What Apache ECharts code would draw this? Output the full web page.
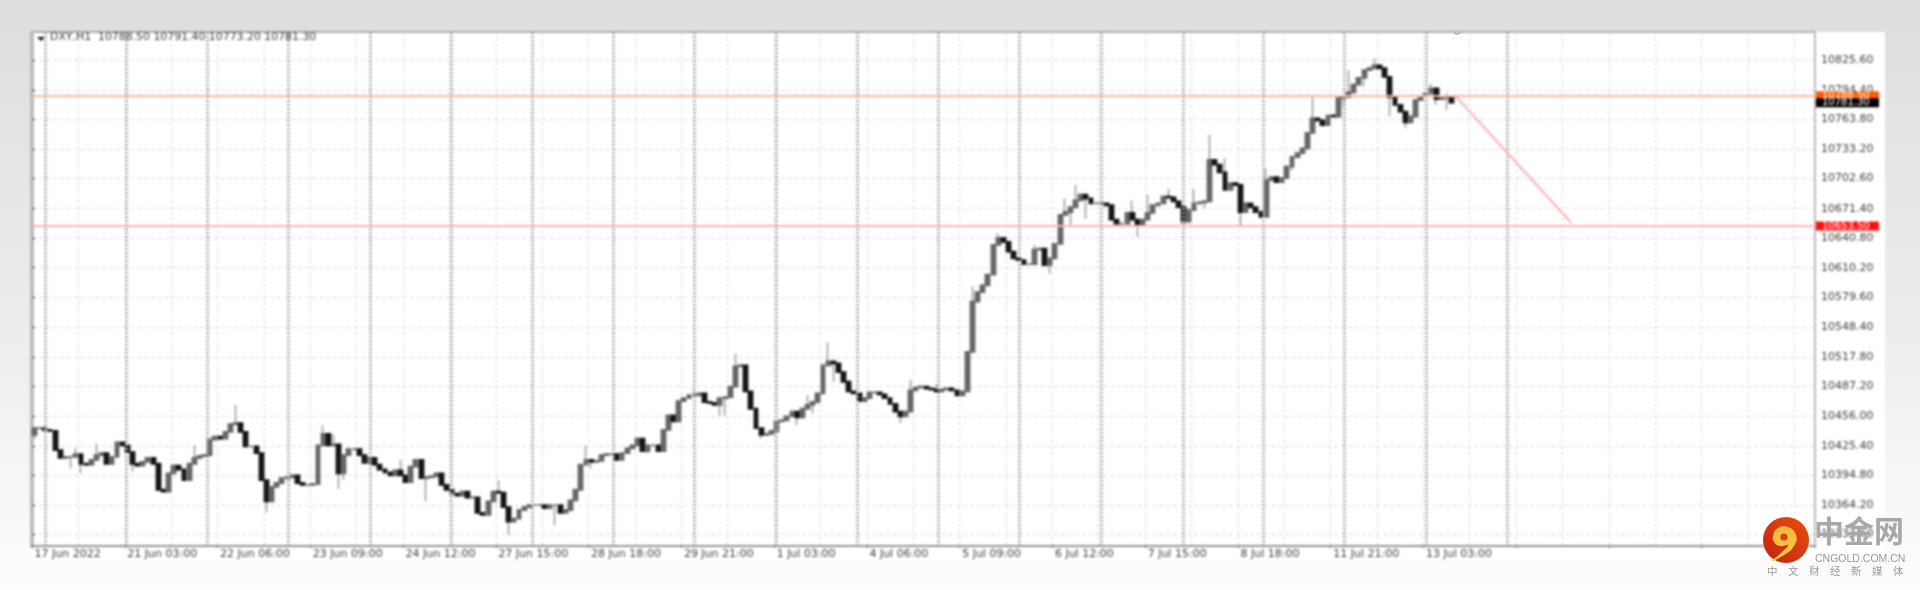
<!DOCTYPE html>
<html><head><meta charset="utf-8">
<style>
html,body{margin:0;padding:0;width:1920px;height:590px;overflow:hidden;background:linear-gradient(180deg,#dddddd 0,#e6e6e6 30%,#eeeeee 60%,#fdfdfd 100%);}
#chart{position:absolute;left:0;top:0;width:1920px;height:590px;filter:blur(1.2px);}
#mark{position:absolute;left:0;top:0;width:1920px;height:590px;filter:blur(0.35px);}
</style>
<script src="https://cdn.jsdelivr.net/npm/echarts@6/dist/echarts.min.js"></script>
</head><body><div id="chart"></div><div id="mark"></div>
<script>
const titleText = 'DXY,H1  10788.50 10791.40 10773.20 10781.30';
const xTickLabels = ['17 Jun 2022','21 Jun 03:00','22 Jun 06:00','23 Jun 09:00','24 Jun 12:00','27 Jun 15:00','28 Jun 18:00','29 Jun 21:00','1 Jul 03:00','4 Jul 06:00','5 Jul 09:00','6 Jul 12:00','7 Jul 15:00','8 Jul 18:00','11 Jul 21:00','13 Jul 03:00'];
const yTicks = [10825.6,10794.4,10763.8,10733.2,10702.6,10671.4,10640.8,10610.2,10579.6,10548.4,10517.8,10487.2,10456.0,10425.4,10394.8,10364.2,10333.6];
const closes = [10444,10444,10442,10441,10421,10413,10414,10414,10417,10407,10406,10411,10416,10418,10407,10414,10429,10426,10419,10407,10405,10409,10413,10407,10380,10378,10397,10405,10401,10390,10407,10413,10415,10416,10432,10435,10433,10440,10448,10449,10440,10425,10425,10418,10390,10368,10383,10387,10392,10393,10395,10387,10385,10385,10386,10426,10438,10426,
10427,10397,10416,10422,10422,10416,10408,10413,10406,10401,10398,10395,10400,10395,10388,10404,10411,10392,10393,10394,10397,10385,10380,10376,10374,10378,10372,10372,10356,10354,10368,10378,10377,10362,10347,10350,10359,10362,10364,10364,10364,10361,10364,10364,10356,10359,10369,10380,10406,10411,10409,10410,10416,10417,10417,10411,
10418,10423,10426,10433,10420,10426,10426,10420,10442,10457,10451,10472,10475,10478,10478,10480,10471,10470,10468,10475,10476,10487,10508,10509,10482,10464,10444,10437,10438,10441,10451,10452,10456,10461,10455,10464,10468,10471,10480,10509,10513,10511,10502,10492,10482,10480,10472,10475,10481,10481,10479,10475,10469,10461,10456,10461,10483,10486,10487,10485,10484,10482,10484,10485,10483,10478,
10482,10523,10575,10585,10592,10603,10634,10641,10637,10627,10620,10618,10614,10614,10629,10630,10613,10620,10635,10665,10668,10673,10680,10686,10682,10677,10677,10677,10675,10660,10656,10656,10667,10660,10654,10660,10667,10675,10677,10684,10683,10679,10673,10658,10670,10677,10678,10679,
10722,10717,10709,10691,10698,10696,10668,10677,10673,10668,10663,10701,10704,10699,10703,10715,10725,10729,10734,10750,10765,10763,10758,10768,10767,10786,10787,10792,10800,10807,10815,10817,10820,10817,10808,10787,10779,10772,10761,10767,10784,10788,10791,10796,10785,10786,10786,10781.3];
const highBars = [8,12,31,39,56,58,71,90,107,128,136,150,154,170,175,182,187,194,200,202,213,216,220,225,228,231,239,248,255,260,271,274];
const highVals = [10423,10428,10426,10468,10447,10437,10411,10390,10426,10483,10521,10478,10533,10494,10490,10591,10646,10634,10682,10696,10680,10686,10692,10692,10748,10724,10713,10788,10815,10827,10801,10791];
const lowBars = [0,7,9,19,45,59,60,76,92,101,108,119,133,134,141,148,151,155,168,182,197,201,204,214,223,227,234,244,254,258,263,266,272,274];
const lowVals = [10433,10402,10397,10399,10357,10381,10390,10368,10333,10343,10402,10418,10457,10457,10433,10447,10459,10492,10449,10561,10604,10654,10661,10642,10653,10672,10654,10711,10777,10798,10767,10755,10779,10774];
const firstOpen = 10437;
const slotCount = 346;
const labelEvery = 18;
const gridEvery = 9;
const separators = [3.8,27.3,50.9,74.4,98.3,121.8,145.3,168.9,192.4,216.3,239.8,263.4,286.9,310.8,334.6,357.8,381.4,405.2,428.8];
const trendX = [413.7,447.4];
const trendY = [10788.5,10657];
const lastPrice = 10781.3, upperLevel = 10788.5, lowerLevel = 10653.5;

const categories = Array.from({length:slotCount},(_,i)=>i%labelEvery===0?(xTickLabels[i/labelEvery]||''):'');
const opens = closes.map((c,i)=>i?closes[i-1]:firstOpen);
const bodies = closes.map((c,i)=>{const o=opens[i];return [o,c,Math.min(o,c),Math.max(o,c)];});
const wicks = closes.map((c,i)=>{
  const o=opens[i];let hi=Math.max(o,c),lo=Math.min(o,c);
  const h=highBars.indexOf(i),l=lowBars.indexOf(i);
  if(h>=0)hi=highVals[h]; if(l>=0)lo=lowVals[l];
  return [c,c,lo,hi];
});
const labelFont = {fontFamily:'DejaVu Sans',fontSize:11,color:'#3c3c3c'};
const chart = echarts.init(document.getElementById('chart'),null,{renderer:'canvas',width:1920,height:590});
const boxLabel = (bg)=>({show:true,position:'end',distance:1,formatter:p=>p.value.toFixed(2),backgroundColor:bg,color:'#fff',fontFamily:'DejaVu Sans',fontSize:10,width:52,padding:[0,5,0,6],height:9,lineHeight:9});
chart.setOption({
  animation:false,
  title:{text:titleText,left:50,top:32,padding:0,textStyle:{fontFamily:'DejaVu Sans',fontSize:10.9,fontWeight:'normal',color:'#3c3c3c'}},
  graphic:[
    {type:'rect',z:-10,shape:{x:31,y:32,width:1854,height:528},style:{fill:'#ffffff'},silent:true},
    {type:'polygon',shape:{points:[[37,37],[45,37],[41,41]]},style:{fill:'#111'},silent:true}
  ],
  grid:{left:32,right:105,top:32,bottom:44,show:true,borderColor:'#999999',borderWidth:1.5},
  xAxis:[
    {type:'category',data:categories,boundaryGap:true,
     axisLine:{show:true,lineStyle:{color:'#8a8a8a',width:1.5}},
     axisTick:{show:true,interval:labelEvery-1,length:2,lineStyle:{color:'#666'}},
     axisLabel:{...labelFont,interval:labelEvery-1,align:'left',margin:3,showMinLabel:true},
     splitLine:{show:true,interval:(i)=>i%gridEvery===0,lineStyle:{color:'#d6d6d6',type:[3,3],width:1}}},
    {type:'value',min:0,max:518.3,show:false,splitLine:{show:false}}
  ],
  yAxis:{type:'value',position:'right',min:10321.7,max:10854.6,scale:true,
    axisLine:{show:true,lineStyle:{color:'#bdbdbd',width:4}},
    axisTick:{show:true,length:3,inside:false,customValues:yTicks,lineStyle:{color:'#444'}},
    axisLabel:{...labelFont,customValues:yTicks,margin:6,formatter:v=>v.toFixed(2)},
    splitLine:{show:true,lineStyle:{color:'#dadada',type:[4,3],width:1}}},
  series:[
    {type:'line',name:'separators',xAxisIndex:1,data:[],symbol:'none',silent:true,z:2,
     markLine:{silent:true,symbol:'none',animation:false,label:{show:false},lineStyle:{color:'#a6a6a6',type:[2,2],width:2.8},data:separators.map(v=>({xAxis:v}))}},
    {type:'candlestick',name:'wicks',data:wicks,barWidth:1.6,z:3,itemStyle:{color:'#a0a0a0',color0:'#a0a0a0',borderColor:'#a0a0a0',borderColor0:'#a0a0a0',borderWidth:1.6}},
    {type:'candlestick',name:'DXY,H1',data:bodies,barWidth:4.4,z:4,itemStyle:{color:'#666666',color0:'#141414',borderColor:'#666666',borderColor0:'#141414',borderWidth:1.8}},
    {type:'line',name:'levels',xAxisIndex:1,data:[],symbol:'none',silent:true,z:5,
     markLine:{silent:true,symbol:'none',animation:false,data:[
       {yAxis:lowerLevel,lineStyle:{color:'#ffb4b4',width:2,type:'solid'},label:boxLabel('#ff1010')},
       {yAxis:upperLevel,lineStyle:{color:'#ffb59c',width:1.8,type:'solid'},label:boxLabel('#ff5a00')},
       {yAxis:lastPrice,lineStyle:{color:'rgba(0,0,0,0)',width:1,type:'solid'},label:boxLabel('#000000')}
     ]}},
    {type:'line',name:'trend',xAxisIndex:1,data:trendX.map((x,i)=>[x,trendY[i]]),symbol:'none',silent:true,z:6,lineStyle:{color:'#ff9c9c',width:1.6}}
  ]
});
const mark = echarts.init(document.getElementById('mark'),null,{renderer:'canvas',width:1920,height:590});
mark.setOption({
  backgroundColor:'transparent',
  graphic:[
    {type:'group',x:1786,y:540,children:[
      {type:'circle',shape:{cx:0,cy:0,r:23},style:{fill:new echarts.graphic.LinearGradient(0,1,1,0,[{offset:0,color:'#c4200f'},{offset:1,color:'#e8500f'}])}},
      {type:'polygon',shape:{points:[[-13,-4],[-8,-12],[2,-13],[10,-5],[8,6],[-2,15],[-14,21],[-4,12],[2,5],[-6,6],[-12,2]],smooth:0.5},style:{fill:new echarts.graphic.LinearGradient(0,0,0,1,[{offset:0,color:'#f6b73a'},{offset:1,color:'#f9c84a'}])}},
      {type:'circle',shape:{cx:-2,cy:-3,r:3.6},style:{fill:'#d8400f'}}
    ]},
    {type:'text',x:1814,y:516,style:{text:'中金网',font:'bold 30px "Noto Sans CJK SC"',fill:'#a8a8a8'}},
    {type:'text',x:1815,y:554,style:{text:'CNGOLD.COM.CN',font:'10.5px "Liberation Sans"',fill:'#9a9a9a'}},
    {type:'text',x:1767,y:566,style:{text:'中\u3000文\u3000财\u3000经\u3000新\u3000媒\u3000体',font:'10.5px "Noto Sans CJK SC"',fill:'#9a9a9a'}},
    {type:'arc',shape:{cx:1457,cy:31,r:3,startAngle:0.3,endAngle:2.8},style:{stroke:'#aaa',lineWidth:1.5,fill:'none'}}
  ]
});
</script></body></html>
